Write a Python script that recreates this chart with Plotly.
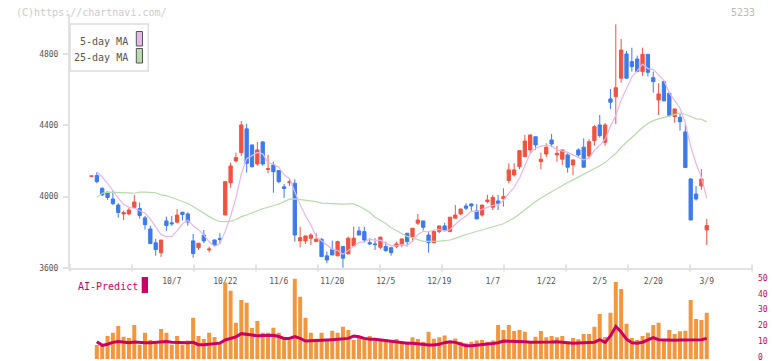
import plotly.graph_objects as go

W, H = 772, 361

# ---------------- data ----------------
date_labels = ["10/7", "10/22", "11/6", "11/20", "12/5", "12/19", "1/7", "1/22", "2/5", "2/20", "3/9"]
label_index = [15, 25, 35, 45, 55, 65, 75, 85, 95, 105, 115]

opens = [4114, 4118, 4047, 4025, 3987, 3953, 3903, 3903, 3940, 3933,
         3881, 3819, 3741, 3686, 3864, 3853, 3857, 3913, 3903, 3752,
         3714, 3785, 3701, 3757, 3766, 3897, 4078, 4200, 4247, 4380,
         4290, 4183, 4307, 4152, 4178, 4146, 4055, 4079, 4075, 3752,
         3752, 3767, 3748, 3761, 3668, 3705, 3668, 3720, 3679, 3724,
         3808, 3804, 3742, 3735, 3716, 3720, 3714, 3720, 3729, 3795,
         3776, 3851, 3864, 3785, 3742, 3804, 3836, 3804, 3879, 3903,
         3948, 3959, 3920, 3897, 3972, 3941, 3976, 3989, 4090, 4122,
         4168, 4224, 4262, 4336, 4196, 4239, 4318, 4234, 4210, 4234,
         4178, 4262, 4277, 4228, 4314, 4402, 4305, 4548, 4561, 4664,
         4800, 4757, 4772, 4701, 4798, 4667, 4542, 4645, 4580, 4449,
         4445, 4363, 4099, 4015, 4060, 3813]
highs = [4117, 4138, 4052, 4028, 4032, 3963, 3922, 3937, 4010, 3967,
         3892, 3836, 3763, 3757, 3888, 3892, 3930, 3914, 3912, 3791,
         3739, 3813, 3720, 3760, 3795, 4084, 4191, 4247, 4424, 4408,
         4290, 4307, 4310, 4234, 4196, 4146, 4071, 4103, 4098, 3832,
         3780, 3795, 3795, 3767, 3692, 3753, 3753, 3720, 3776, 3832,
         3832, 3832, 3767, 3767, 3776, 3748, 3714, 3748, 3763, 3795,
         3823, 3903, 3864, 3804, 3813, 3836, 3854, 3885, 3953, 3931,
         3963, 3962, 3958, 3953, 4010, 4010, 4010, 4047, 4187, 4187,
         4258, 4346, 4346, 4336, 4247, 4299, 4352, 4284, 4262, 4243,
         4206, 4271, 4327, 4322, 4402, 4458, 4412, 4604, 4966, 4884,
         4817, 4835, 4791, 4835, 4798, 4701, 4636, 4650, 4580, 4492,
         4464, 4408, 4105, 4060, 4155, 3875]
lows = [4113, 4075, 4003, 3982, 3953, 3882, 3868, 3896, 3937, 3877,
        3815, 3737, 3669, 3662, 3808, 3836, 3851, 3866, 3837, 3658,
        3701, 3739, 3688, 3725, 3735, 3897, 4050, 4191, 4228, 4135,
        4163, 4174, 4174, 4131, 4022, 4075, 3993, 4060, 3748, 3716,
        3735, 3729, 3748, 3664, 3627, 3673, 3668, 3602, 3679, 3724,
        3785, 3742, 3730, 3701, 3705, 3692, 3669, 3711, 3716, 3720,
        3748, 3841, 3810, 3686, 3742, 3795, 3813, 3804, 3879, 3897,
        3925, 3916, 3875, 3888, 3963, 3925, 3925, 3944, 4075, 4112,
        4154, 4224, 4243, 4262, 4154, 4221, 4277, 4196, 4178, 4135,
        4122, 4224, 4165, 4215, 4286, 4331, 4286, 4492, 4406, 4639,
        4660, 4701, 4701, 4677, 4673, 4583, 4458, 4537, 4449, 4415,
        4370, 4163, 3869, 3978, 4038, 3729]
closes = [4116, 4084, 4010, 3995, 3961, 3911, 3910, 3925, 3970, 3894,
          3843, 3737, 3703, 3757, 3838, 3848, 3897, 3900, 3858, 3681,
          3739, 3752, 3706, 3729, 3760, 4084, 4172, 4219, 4402, 4187,
          4168, 4262, 4183, 4156, 4140, 4084, 4046, 4083, 3785, 3770,
          3780, 3785, 3761, 3664, 3645, 3673, 3748, 3655, 3767, 3767,
          3785, 3757, 3735, 3731, 3773, 3697, 3686, 3735, 3763, 3748,
          3823, 3869, 3828, 3742, 3804, 3836, 3813, 3885, 3897, 3931,
          3935, 3948, 3875, 3953, 3981, 3996, 3963, 4000, 4150, 4150,
          4258, 4312, 4346, 4290, 4210, 4277, 4295, 4243, 4262, 4165,
          4206, 4234, 4165, 4308, 4392, 4342, 4402, 4529, 4611, 4822,
          4664, 4729, 4701, 4798, 4697, 4645, 4576, 4537, 4455, 4492,
          4420, 4163, 3869, 3987, 4099, 3838]

ma5 = [None, 4138, 4110, 4075, 4033, 3992, 3957, 3940, 3935, 3922,
       3908, 3874, 3829, 3787, 3776, 3777, 3809, 3848, 3868, 3837,
       3815, 3786, 3747, 3721, 3737, 3806, 3890, 3993, 4127, 4213,
       4230, 4248, 4240, 4191, 4182, 4165, 4122, 4102, 4028, 3954,
       3893, 3841, 3776, 3752, 3727, 3706, 3698, 3677, 3698, 3722,
       3744, 3746, 3762, 3755, 3756, 3739, 3724, 3724, 3731, 3726,
       3751, 3788, 3806, 3802, 3813, 3816, 3805, 3816, 3847, 3872,
       3892, 3919, 3917, 3928, 3938, 3951, 3954, 3979, 4018, 4052,
       4104, 4174, 4243, 4271, 4283, 4287, 4284, 4263, 4257, 4248,
       4234, 4222, 4206, 4216, 4261, 4288, 4322, 4395, 4455, 4541,
       4606, 4671, 4705, 4743, 4718, 4714, 4683, 4651, 4582, 4541,
       4496, 4413, 4280, 4186, 4108, 3991]
ma25 = [None, 3996, 4019, 4025, 4025, 4025, 4025, 4021, 4019, 4025,
        4025, 4025, 4022, 4010, 4006, 3995, 3985, 3976, 3962, 3945,
        3925, 3905, 3888, 3872, 3861, 3860, 3863, 3872, 3888, 3897,
        3907, 3921, 3932, 3939, 3949, 3958, 3971, 3986, 3987, 3984,
        3982, 3977, 3972, 3964, 3962, 3960, 3960, 3958, 3959, 3959,
        3947, 3931, 3912, 3885, 3868, 3849, 3826, 3808, 3793, 3777,
        3766, 3759, 3749, 3747, 3749, 3751, 3752, 3757, 3766, 3778,
        3788, 3796, 3805, 3813, 3821, 3830, 3838, 3848, 3865, 3880,
        3903, 3928, 3952, 3973, 3992, 4010, 4027, 4044, 4064, 4079,
        4094, 4110, 4122, 4138, 4157, 4173, 4191, 4217, 4243, 4277,
        4304, 4334, 4363, 4388, 4410, 4426, 4436, 4444, 4451, 4462,
        4468, 4462, 4447, 4436, 4434, 4419]

volume = [None, 8.8, 9.5, 14.5, 16.6, 20.8, 14.1, 13.2, 21.4, 9.0,
          16.6, 12.0, 10.9, 18.9, 16.6, 9.0, 14.5, 9.0, 11.6, 26.1,
          14.5, 12.6, 16.6, 13.9, 9.9, 48.2, 43.1, 22.9, 37.2, 35.5,
          19.6, 24.0, 16.6, 16.6, 19.7, 16.6, 13.7, 12.0, 50.7, 39.3,
          26.0, 16.6, 12.8, 16.6, 12.0, 17.9, 16.6, 20.4, 18.3, 12.0,
          14.5, 12.8, 14.5, 12.8, 12.0, 12.4, 10.9, 12.6, 10.9, 10.9,
          13.7, 12.6, 10.9, 17.2, 12.8, 13.7, 14.9, 10.9, 13.0, 10.9,
          9.9, 10.9, 11.6, 12.0, 10.9, 11.6, 21.4, 18.3, 21.4, 17.7,
          18.3, 17.2, 10.9, 14.0, 17.7, 13.7, 14.5, 13.7, 14.5, 10.9,
          13.2, 12.4, 15.8, 15.8, 20.4, 28.4, 13.9, 29.2, 48.6, 44.2,
          22.3, 13.2, 12.0, 14.5, 16.6, 21.4, 22.9, 12.0, 18.3, 15.8,
          17.5, 17.9, 37.2, 25.2, 24.6, 29.2]
ai_predict = [None, 10.9, 8.6, 9.3, 10.5, 11.0, 10.7, 10.2, 10.7, 10.3,
              10.3, 10.3, 10.5, 11.0, 11.0, 10.5, 10.3, 10.3, 10.3, 10.5,
              9.0, 9.0, 9.3, 9.3, 10.0, 12.0, 13.2, 14.0, 16.0, 15.8,
              15.2, 14.6, 14.6, 15.0, 15.0, 14.2, 13.0, 13.0, 14.2, 13.0,
              11.3, 11.5, 11.8, 12.0, 12.0, 12.2, 12.4, 12.4, 13.0, 14.5,
              14.0, 13.0, 12.4, 12.4, 12.0, 11.3, 10.9, 10.9, 10.5, 10.0,
              9.9, 9.5, 9.0, 8.8, 8.8, 9.3, 10.3, 10.9, 10.5, 9.5,
              8.4, 8.4, 8.8, 9.5, 9.5, 9.8, 10.3, 11.3, 11.3, 11.3,
              11.0, 10.9, 10.5, 10.5, 10.3, 10.5, 10.7, 10.9, 10.5, 10.0,
              9.9, 10.1, 10.3, 10.3, 10.6, 12.2, 10.5, 14.5, 20.5, 17.0,
              12.5, 10.2, 10.0, 10.6, 12.0, 13.5, 12.2, 12.0, 12.0, 11.8,
              12.0, 12.0, 12.0, 12.0, 12.2, 13.0]

price_ticks = [3600, 4000, 4400, 4800]
volume_ticks = [0, 10, 20, 30, 40, 50]

# ---------------- styling ----------------
RED = "#f25240"
BLUE = "#3d7bec"
PINK = "#e8b6ec"
GREEN = "#b6dcab"
ORANGE = "#f3973f"
CRIMSON = "#cc0066"
AXIS = "#e2e2e2"
TXT = "#555555"
MONO = "DejaVu Sans Mono"

idx = list(range(len(closes)))

def fx(px):
    return px / W

def fy(px):
    return 1 - px / H

# pixel geometry
PL, PR = 70, 752            # plot left/right
P_TOP, P_BOT = 14, 268      # price panel
V_BOT, V_UNIT = 359, 1.585  # volume panel baseline, px per unit
X0_PX, STEP_PX = 91.5, 5.35
x_range = [-(X0_PX - PL) / STEP_PX, (PR - X0_PX) / STEP_PX]
PX_PER_PRICE = 142.7 / 800.0
p_top_val = 3600 + (P_BOT - P_TOP) / PX_PER_PRICE
V_MAX = 55
v_top_px = V_BOT - V_MAX * V_UNIT

fig = go.Figure()

fig.add_trace(go.Scatter(x=idx, y=ma25, mode="lines", line=dict(color=GREEN, width=1.2),
                         xaxis="x", yaxis="y", hoverinfo="skip", showlegend=False))
fig.add_trace(go.Scatter(x=idx, y=ma5, mode="lines", line=dict(color=PINK, width=1.2),
                         xaxis="x", yaxis="y", hoverinfo="skip", showlegend=False))
fig.add_trace(go.Candlestick(
    x=idx, open=opens, high=highs, low=lows, close=closes,
    increasing=dict(line=dict(color=RED, width=1), fillcolor=RED),
    decreasing=dict(line=dict(color=BLUE, width=1), fillcolor=BLUE),
    whiskerwidth=0, xaxis="x", yaxis="y", showlegend=False))

fig.add_trace(go.Bar(x=idx, y=volume, marker=dict(color=ORANGE, line=dict(width=0)),
                     xaxis="x2", yaxis="y2", showlegend=False))
fig.add_trace(go.Scatter(x=idx, y=ai_predict, mode="lines", line=dict(color=CRIMSON, width=3),
                         xaxis="x2", yaxis="y2", showlegend=False))

shapes = []
# bottom axis tick marks (11 equal intervals)
for k in range(12):
    xp = PL + (PR - PL) * k / 11
    shapes.append(dict(type="line", xref="paper", yref="paper", x0=fx(xp), x1=fx(xp),
                       y0=fy(P_BOT + 3.5), y1=fy(P_BOT - 3.5), line=dict(color=AXIS, width=2)))
# legend box
shapes.append(dict(type="rect", xref="paper", yref="paper", x0=fx(70), x1=fx(148.3), y0=fy(71), y1=fy(24),
                   line=dict(color="#dddddd", width=1.5), fillcolor="white", layer="above"))
shapes.append(dict(type="rect", xref="paper", yref="paper", x0=fx(136.3), x1=fx(142.5), y0=fy(46), y1=fy(31.5),
                   line=dict(color="#555555", width=1), fillcolor=PINK, layer="above"))
shapes.append(dict(type="rect", xref="paper", yref="paper", x0=fx(136.3), x1=fx(142.5), y0=fy(63), y1=fy(48.5),
                   line=dict(color="#555555", width=1), fillcolor=GREEN, layer="above"))
# AI-Predict marker
shapes.append(dict(type="rect", xref="paper", yref="paper", x0=fx(141.7), x1=fx(148), y0=fy(293), y1=fy(277),
                   line=dict(width=0), fillcolor=CRIMSON))

annotations = [
    dict(text="(C)https://chartnavi.com/", x=fx(14), y=fy(12.5), xanchor="left", yanchor="middle",
         font=dict(family=MONO, size=10, color="#cccccc")),
    dict(text="5233", x=fx(757), y=fy(12.5), xanchor="right", yanchor="middle",
         font=dict(family=MONO, size=10, color="#bbbbbb")),
    dict(text="5-day MA", x=fx(130), y=fy(41.7), xanchor="right", yanchor="middle",
         font=dict(family=MONO, size=10, color=TXT)),
    dict(text="25-day MA", x=fx(130), y=fy(57.3), xanchor="right", yanchor="middle",
         font=dict(family=MONO, size=10, color=TXT)),
    dict(text="AI-Predict", x=fx(75.5), y=fy(286), xanchor="left", yanchor="middle",
         font=dict(family=MONO, size=10, color=CRIMSON)),
]
for a in annotations:
    a.update(xref="paper", yref="paper", showarrow=False)
# right-hand volume scale labels (placed on the volume axis values)
for v in volume_ticks:
    annotations.append(dict(text=str(v), x=fx(755.5), xref="paper", y=v, yref="y2",
                            xanchor="left", yanchor="middle", yshift=1.5, showarrow=False,
                            font=dict(family=MONO, size=8, color=CRIMSON)))

fig.update_layout(
    width=W, height=H, margin=dict(l=0, r=0, t=0, b=0, autoexpand=False),
    paper_bgcolor="white", plot_bgcolor="white",
    showlegend=False, boxgap=0.12, bargap=0.25,
    shapes=shapes, annotations=annotations,
    xaxis=dict(domain=[fx(PL), fx(PR)], range=x_range, anchor="y", automargin=False,
               showgrid=False, zeroline=False, showline=True, linecolor=AXIS, linewidth=2,
               tickmode="array", tickvals=label_index, ticktext=date_labels, ticks="",
               ticklabelstandoff=4, tickfont=dict(family=MONO, size=8, color=TXT),
               rangeslider=dict(visible=False), fixedrange=True),
    yaxis=dict(domain=[fy(P_BOT), fy(P_TOP)], range=[3600, p_top_val], anchor="x", automargin=False,
               showgrid=False, zeroline=False, showline=True, linecolor=AXIS, linewidth=2,
               tickmode="array", tickvals=price_ticks, ticks="outside", ticklen=5, tickcolor=AXIS,
               tickwidth=1.5, ticklabelstandoff=3, tickfont=dict(family=MONO, size=8, color=TXT)),
    xaxis2=dict(domain=[fx(PL), fx(PR)], range=x_range, anchor="y2", matches="x",
                visible=False, automargin=False),
    yaxis2=dict(domain=[fy(V_BOT), fy(v_top_px)], range=[0, V_MAX], anchor="x2", side="right",
                automargin=False, showgrid=False, zeroline=False, showline=False, ticks="",
                showticklabels=False),
)

fig.write_html("out.html", config={"displayModeBar": False},
               post_script="document.body.style.margin='0px';document.body.style.overflow='hidden';")
